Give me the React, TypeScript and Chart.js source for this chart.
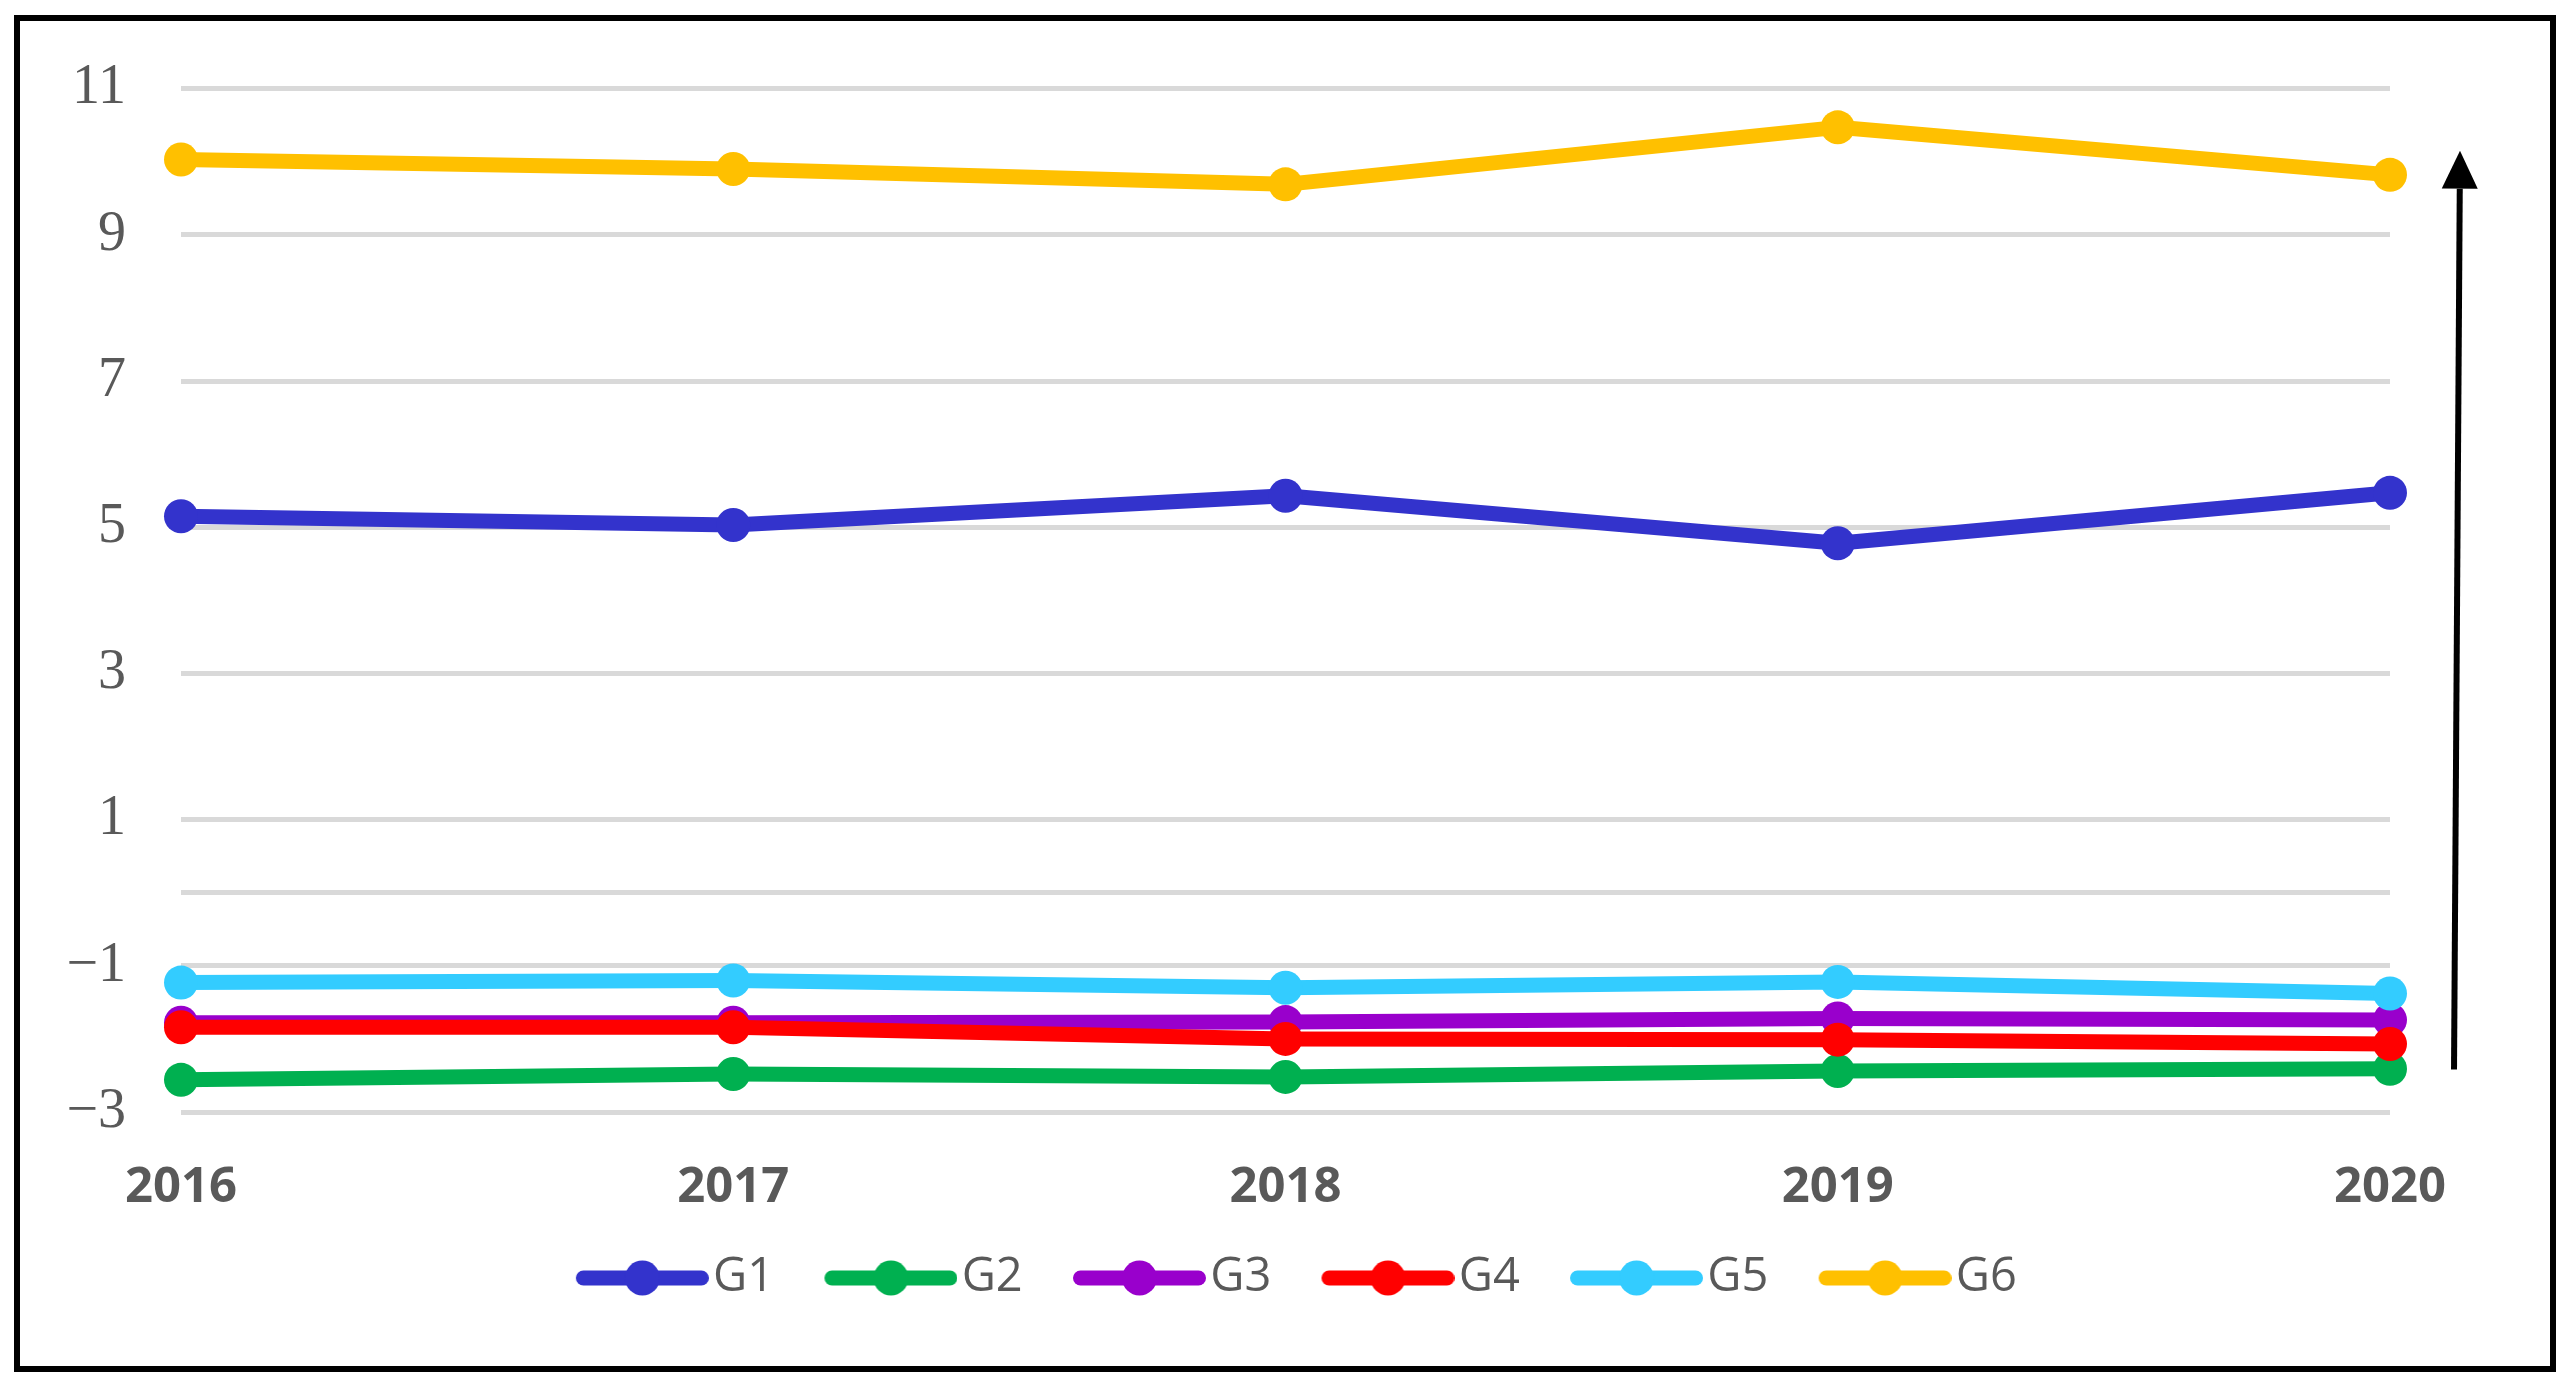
import React, { useEffect, useRef } from 'react';
import { Chart, registerables } from 'chart.js';

Chart.register(...registerables);

const categories = ['2016', '2017', '2018', '2019', '2020'];
const seriesNames = ['G1', 'G2', 'G3', 'G4', 'G5', 'G6'];
const g1Values = [5.15, 5.03, 5.43, 4.78, 5.47];
const g2Values = [-2.56, -2.48, -2.52, -2.44, -2.41];
const g3Values = [-1.78, -1.78, -1.77, -1.72, -1.74];
const g4Values = [-1.84, -1.84, -2.0, -2.01, -2.07];
const g5Values = [-1.23, -1.2, -1.3, -1.22, -1.38];
const g6Values = [10.03, 9.9, 9.69, 10.47, 9.82];
const seriesColors = ['#3333CC', '#00B050', '#9900CC', '#FF0000', '#33CCFF', '#FFC000'];
const yTickValues = [-3, -1, 1, 3, 5, 7, 9, 11];
const yAxisCross = 0;
const yMin = -3;
const yMax = 11;
const arrowFromValue = -2.42;
const arrowToValue = 10.15;

const allSeries = [g1Values, g2Values, g3Values, g4Values, g5Values, g6Values];

function makeLegendIcon(color: string): HTMLCanvasElement {
  const c = document.createElement('canvas');
  c.width = 170;
  c.height = 36;
  const ctx = c.getContext('2d')!;
  const x0 = 170 - 133;
  ctx.strokeStyle = color;
  ctx.lineWidth = 15;
  ctx.lineCap = 'round';
  ctx.beginPath();
  ctx.moveTo(x0 + 7.5, 18);
  ctx.lineTo(x0 + 125.5, 18);
  ctx.stroke();
  ctx.fillStyle = color;
  ctx.beginPath();
  ctx.arc(x0 + 66.5, 18, 17.5, 0, Math.PI * 2);
  ctx.fill();
  return c;
}

const arrowPlugin = {
  id: 'sideArrow',
  afterDraw(chart: any) {
    const { ctx, chartArea, scales } = chart;
    const y = scales.y;
    const yBottom = y.getPixelForValue(arrowFromValue);
    const yTop = y.getPixelForValue(arrowToValue);
    const xBottom = chartArea.right + 64;
    const xTop = chartArea.right + 70;
    const dx = xTop - xBottom;
    const dy = yTop - yBottom;
    const len = Math.hypot(dx, dy);
    const ux = dx / len;
    const uy = dy / len;
    const headLen = 38;
    const headHalf = 18;
    const bx = xTop - ux * headLen;
    const by = yTop - uy * headLen;
    ctx.save();
    ctx.strokeStyle = '#000';
    ctx.fillStyle = '#000';
    ctx.lineWidth = 6;
    ctx.beginPath();
    ctx.moveTo(xBottom, yBottom);
    ctx.lineTo(bx, by);
    ctx.stroke();
    ctx.beginPath();
    ctx.moveTo(xTop, yTop);
    ctx.lineTo(bx - uy * headHalf, by + ux * headHalf);
    ctx.lineTo(bx + uy * headHalf, by - ux * headHalf);
    ctx.closePath();
    ctx.fill();
    ctx.restore();
  },
};

const legendShiftPlugin = {
  id: 'legendShift',
  afterLayout(chart: any) {
    const lg = chart.legend;
    if (lg) {
      lg.left += 2;
      lg.right += 2;
    }
  },
};

export default function App() {
  const canvasRef = useRef<HTMLCanvasElement | null>(null);

  useEffect(() => {
    if (!canvasRef.current) return;
    const icons = seriesColors.map((c) => makeLegendIcon(c));
    const datasets = seriesNames.map((name, i) => ({
      label: name,
      data: allSeries[i],
      borderColor: seriesColors[i],
      backgroundColor: seriesColors[i],
      pointBackgroundColor: seriesColors[i],
      pointBorderColor: seriesColors[i],
      borderWidth: 15,
      pointRadius: 17,
      pointHoverRadius: 17,
      pointBorderWidth: 0,
      borderCapStyle: 'round' as const,
      borderJoinStyle: 'round' as const,
      tension: 0,
      order: seriesNames.length - i,
      clip: false as any,
    }));

    const chart = new Chart(canvasRef.current, {
      type: 'line',
      data: { labels: categories, datasets },
      plugins: [arrowPlugin, legendShiftPlugin],
      options: {
        animation: false,
        responsive: true,
        maintainAspectRatio: false,
        events: [],
        layout: { padding: { top: 87, right: 183, bottom: 81.5, left: 0 } },
        scales: {
          x: {
            type: 'category',
            offset: false,
            grid: { display: false, drawTicks: false },
            border: { display: false },
            ticks: {
              padding: 47,
              color: '#595959',
              maxRotation: 0,
              autoSkip: false,
              font: { family: '"Open Sans", sans-serif', size: 49, weight: 'bold' },
            },
            afterFit: (s: any) => {
              s.height = 110;
            },
          },
          y: {
            type: 'linear',
            min: yMin,
            max: yMax,
            grid: { color: '#D9D9D9', lineWidth: 5, drawTicks: false },
            border: { display: false },
            ticks: {
              padding: 55,
              color: '#595959',
              font: { family: '"Liberation Serif", "Times New Roman", serif', size: 56 },
              callback: (v: any) =>
                v === yAxisCross ? '' : v < 0 ? '\u2212' + Math.abs(v) : String(v),
            },
            afterBuildTicks: (s: any) => {
              s.ticks = [...yTickValues, yAxisCross]
                .sort((a, b) => a - b)
                .map((v) => ({ value: v }));
            },
            afterFit: (s: any) => {
              s.width = 181;
            },
          },
        },
        plugins: {
          tooltip: { enabled: false },
          legend: {
            position: 'bottom',
            fullSize: false,
            labels: {
              usePointStyle: true,
              pointStyleWidth: 131.5,
              padding: 32.5,
              color: '#595959',
              font: { family: '"Open Sans", sans-serif', size: 47 },
              generateLabels: (ch: any) =>
                ch.data.datasets.map((ds: any, i: number) => ({
                  text: ds.label,
                  pointStyle: icons[i],
                  fillStyle: ds.borderColor,
                  strokeStyle: ds.borderColor,
                  lineWidth: 0,
                  hidden: false,
                  datasetIndex: i,
                  fontColor: '#595959',
                })),
            },
          },
        },
      },
    });
    return () => chart.destroy();
  }, []);

  return (
    <div style={{ position: 'absolute', left: 0, top: 0, width: 2573, height: 1393, background: '#fff', overflow: 'hidden' }}>
      <div style={{ position: 'absolute', left: 0, top: 0, width: 2573, height: 1393 }}>
        <canvas ref={canvasRef} />
      </div>
      <div
        style={{
          position: 'absolute',
          left: 14,
          top: 15,
          width: 2542,
          height: 1357,
          border: '6px solid #000',
          boxSizing: 'border-box',
          pointerEvents: 'none',
        }}
      />
    </div>
  );
}
